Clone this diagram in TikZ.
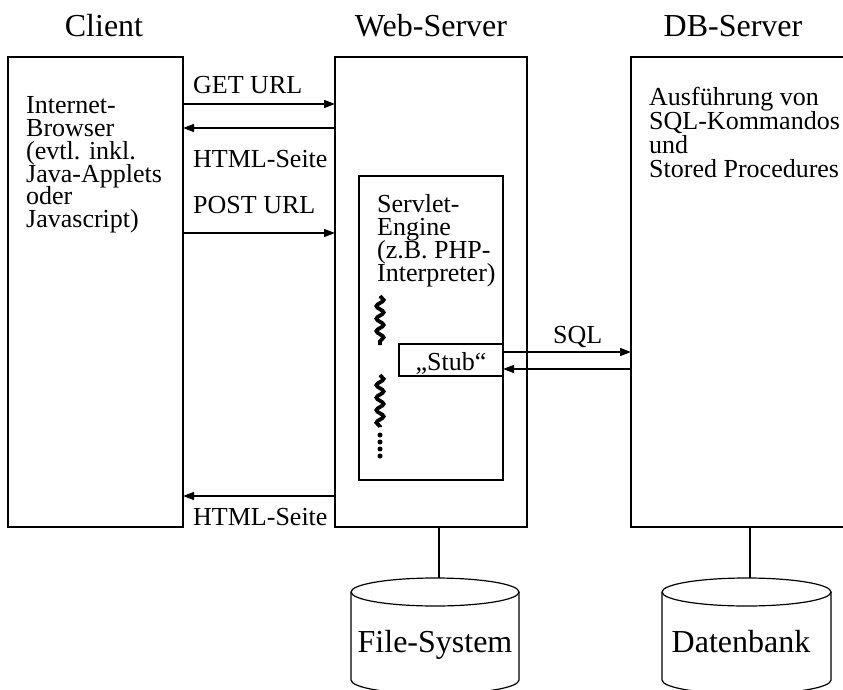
\documentclass[tikz,border=0pt]{standalone}
\usepackage{fontspec}
\setmainfont{Liberation Serif}
\usetikzlibrary{arrows.meta,decorations.pathmorphing}
\newcommand\mlines[1]{\vtop{\lineskiplimit=-100pt\lineskip=0pt\relax #1}}
\begin{document}
\begin{tikzpicture}[x=1pt,y=-1pt,
  box/.style={draw,line width=1.2pt,inner sep=0pt,outer sep=0pt,anchor=north west},
  arr/.style={line width=1.2pt,-{Triangle[length=11pt,width=8pt]}},
  plain/.style={line width=1.2pt},
  txt/.style={font=\fontsize{26}{23.3}\selectfont,inner sep=0pt,anchor=base west},
  title/.style={font=\fontsize{32}{36}\selectfont,inner sep=0pt,anchor=base},
  wave/.style={line width=3.8pt,decorate,decoration={snake,segment length=12.5pt,amplitude=3.6pt}}]
\useasboundingbox (0,0) rectangle (843,690);
\clip (0,0) rectangle (843,690);
% titles
\node[title] (tclient) at (104,37) {Client};
\node[title] (tws) at (431,37) {Web-Server};
\node[title] (tdb) at (733,37) {DB-Server};
% boxes
\node[box,minimum width=175pt,minimum height=470pt] (client) at (8,57) {};
\node[box,minimum width=192pt,minimum height=470pt] (ws) at (335,57) {};
\node[box,minimum width=240pt,minimum height=470pt] (db) at (631,57) {};
\node[box,minimum width=144pt,minimum height=304pt] (engine) at (359,176) {};
\node[box,minimum width=104pt,minimum height=32pt] (stub) at (399,344) {};
% texts
\node[txt,font=\fontsize{26}{22.7}\selectfont] (ctext) at (26,114) {\mlines{\hbox{Internet-}\hbox{Browser}\hbox{(evtl. inkl.}\hbox{Java-Applets}\hbox{oder}\hbox{Javascript)}}};
\node[txt,font=\fontsize{26}{23.7}\selectfont] (dbtext) at (649,106) {\mlines{\hbox{Ausführung von}\hbox{SQL-Kommandos}\hbox{und}\hbox{Stored Procedures}}};
\node[txt] (etext) at (377,212) {\mlines{\hbox{Servlet-}\hbox{Engine}\hbox{(z.B. PHP-}\hbox{Interpreter)}}};
\node[txt,anchor=base] (stubtext) at (451,370) {„Stub“};
% client / web-server arrows
\draw[arr] (client.east |- 0,104) -- (ws.west |- 0,104);
\draw[arr] (ws.west |- 0,128) -- (client.east |- 0,128);
\draw[arr] (client.east |- 0,233) -- (ws.west |- 0,233);
\draw[arr] (ws.west |- 0,496) -- (client.east |- 0,496);
\node[txt] (lget) at (193,94) {GET URL};
\node[txt] (lhtml1) at (193,167) {HTML-Seite};
\node[txt] (lpost) at (193,213) {POST URL};
\node[txt] (lhtml2) at (193,525) {HTML-Seite};
% SQL arrows
\draw[arr] (stub.east |- 0,352) -- (db.west |- 0,352);
\draw[arr] (db.west |- 0,369) -- (stub.east |- 0,369);
\node[txt] (lsql) at (553,343) {SQL};
% threads
\draw[wave] (380,296) -- (380,345);
\draw[wave] (380,375) -- (380,427);
\foreach \yy in {435,442,449,456} \fill (380,\yy) circle (2.5pt);
% cylinders
\coordinate (fstop) at (439,578);
\coordinate (dbtop) at (750,578);
\draw[plain,fill=white] (351,592) -- (351,680) arc[start angle=180,end angle=0,x radius=84,y radius=14] -- (519,592);
\draw[plain] (435,592) ellipse[x radius=84,y radius=14];
\draw[plain,fill=white] (662,592) -- (662,680) arc[start angle=180,end angle=0,x radius=84.5,y radius=14] -- (831,592);
\draw[plain] (746.5,592) ellipse[x radius=84.5,y radius=14];
\node[title] (fs) at (435,652) {File-System};
\node[title] (dbank) at (741,652) {Datenbank};
\draw[plain] (ws.south -| fstop) -- (fstop);
\draw[plain] (db.south -| dbtop) -- (dbtop);
\end{tikzpicture}
\end{document}
